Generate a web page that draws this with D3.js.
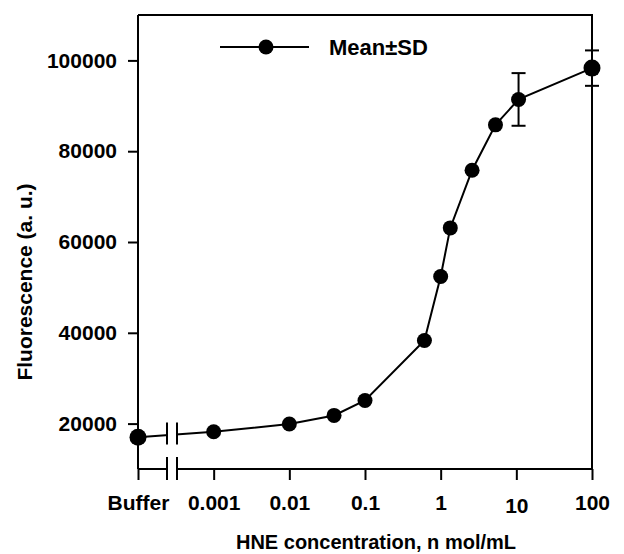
<!DOCTYPE html>
<html>
<head>
<meta charset="utf-8">
<script src="https://cdn.jsdelivr.net/npm/d3@7"></script>
<style>
body{margin:0;background:#fff}
text{font-family:"Liberation Sans",Arial,sans-serif;font-weight:bold;fill:#000}
</style>
</head>
<body>
<svg></svg>
<script>
var screen = {width:624,height:554}
var margins = {top:15,right:32,bottom:85,left:138}

// HNE concentration (n mol/mL); Buffer sits one decade left of 0.001
var concentration = [0.0001,0.001,0.01,0.039,0.1,0.61,1.0,1.34,2.6,5.3,10.7,100]
var fluorescence = [17000,18200,19900,21800,25100,38300,52400,63100,75800,85800,91400,98300]
var sd = [0,0,0,0,0,0,0,0,0,0,5800,3900]

var xTickValues = [0.0001,0.001,0.01,0.1,1,10,100]
var xTickLabels = ["Buffer","0.001","0.01","0.1","1","10","100"]
var yTickValues = [20000,40000,60000,80000,100000]

var points = concentration.map(function(c,i){
    return {conc:c, mean:fluorescence[i], sd:sd[i]}
})

var setup = function(data)
{
 var svg = d3.select("svg")
   .attr("width",screen.width)
   .attr("height",screen.height)

 var width = screen.width - margins.left - margins.right;
 var height = screen.height - margins.top - margins.bottom;

 var xScale = d3.scaleLog()
                .domain([0.0001,100])
                .range([0,width])

 var yScale = d3.scaleLinear()
                .domain([10000,110000])
                .range([height,0])

 var g = svg.append("g")
   .attr("id","graph")
   .attr("transform","translate("+margins.left+","+margins.top+")");

 // frame top + right
 g.append("path")
  .attr("d","M0,0H"+width+"V"+height)
  .attr("fill","none")
  .attr("stroke","#000")
  .attr("stroke-width",2)

 var xAxis = d3.axisBottom(xScale)
               .tickValues(xTickValues)
               .tickSize(11)
               .tickPadding(15)
               .tickFormat(function(d,i){return xTickLabels[i]})
 var yAxis = d3.axisLeft(yScale)
               .tickValues(yTickValues)
               .tickSize(10)
               .tickPadding(11)
               .tickFormat(d3.format("d"))

 g.append("g")
   .attr("id","xAxis")
   .attr("transform","translate(0,"+height+")")
   .call(xAxis)

 g.append("g")
   .attr("id","yAxis")
   .call(yAxis)

 g.selectAll(".domain").attr("stroke-width",2)
 g.selectAll(".tick line").attr("stroke-width",2)
 g.selectAll(".tick text").style("font-size","21px").style("font-family","'Liberation Sans',Arial,sans-serif")
 // "10" sits a little lower in the original
 g.selectAll("#xAxis .tick text").attr("dy",function(d){return d==10?"0.85em":"0.71em"})
 // plain domains, no outer ticks
 g.select("#xAxis .domain").attr("d","M0,0H"+width)
 g.select("#yAxis .domain").attr("d","M0,0V"+height)

 // mean line
 var line = d3.line()
   .x(function(d){return xScale(d.conc)})
   .y(function(d){return yScale(d.mean)})

 g.append("path")
  .datum(data)
  .attr("d",line)
  .attr("fill","none")
  .attr("stroke","#000")
  .attr("stroke-width",2)

 // axis break marks
 var b1 = 29, b2 = 39
 var lineY = (yScale(data[0].mean)+yScale(data[1].mean))/2 - 1
 g.append("rect")
  .attr("x",b1).attr("y",lineY-8)
  .attr("width",b2-b1).attr("height",16)
  .attr("fill","#fff")
 g.append("rect")
  .attr("x",b1).attr("y",height-2)
  .attr("width",b2-b1).attr("height",4)
  .attr("fill","#fff")
 ;[b1,b2].forEach(function(bx){
   g.append("line")
    .attr("x1",bx).attr("x2",bx)
    .attr("y1",lineY-11).attr("y2",lineY+11)
    .attr("stroke","#000").attr("stroke-width",2)
   g.append("line")
    .attr("x1",bx).attr("x2",bx)
    .attr("y1",height-12).attr("y2",height+11)
    .attr("stroke","#000").attr("stroke-width",2)
 })

 // error bars
 var errs = g.selectAll(".err")
   .data(data.filter(function(d){return d.sd>0}))
   .enter()
   .append("g")
   .attr("class","err")
 errs.append("line")
   .attr("x1",function(d){return xScale(d.conc)})
   .attr("x2",function(d){return xScale(d.conc)})
   .attr("y1",function(d){return yScale(d.mean+d.sd)})
   .attr("y2",function(d){return yScale(d.mean-d.sd)})
   .attr("stroke","#000").attr("stroke-width",2)
 errs.selectAll(".cap")
   .data(function(d){return [d.mean+d.sd,d.mean-d.sd].map(function(v){return {x:xScale(d.conc),y:yScale(v)}})})
   .enter()
   .append("line")
   .attr("x1",function(p){return p.x-7})
   .attr("x2",function(p){return p.x+7})
   .attr("y1",function(p){return p.y})
   .attr("y2",function(p){return p.y})
   .attr("stroke","#000").attr("stroke-width",2)

 g.selectAll("circle")
   .data(data)
   .enter()
   .append("circle")
   .attr("cx",function(d){return xScale(d.conc)})
   .attr("cy",function(d){return yScale(d.mean)})
   .attr("r",function(d,i){return (i==0||i==data.length-1)?8.5:7.5})
   .attr("fill","#000")

 // legend
 var leg = svg.append("g").attr("transform","translate(220,47)")
 leg.append("line").attr("x1",0).attr("x2",89).attr("y1",0).attr("y2",0)
   .attr("stroke","#000").attr("stroke-width",2)
 leg.append("circle").attr("cx",46).attr("cy",0).attr("r",7.5).attr("fill","#000")
 leg.append("text").attr("x",109).attr("y",8).style("font-size","22px").text("Mean\u00B1SD")

 // axis titles
 svg.append("text")
   .attr("x",376)
   .attr("y",549)
   .attr("text-anchor","middle")
   .style("font-size","20px")
   .text("HNE concentration, n mol/mL")

 svg.append("text")
   .attr("transform","translate(32,282) rotate(-90)")
   .attr("text-anchor","middle")
   .style("font-size","21px")
   .text("Fluorescence (a. u.)")
}

setup(points)
</script>
</body>
</html>
